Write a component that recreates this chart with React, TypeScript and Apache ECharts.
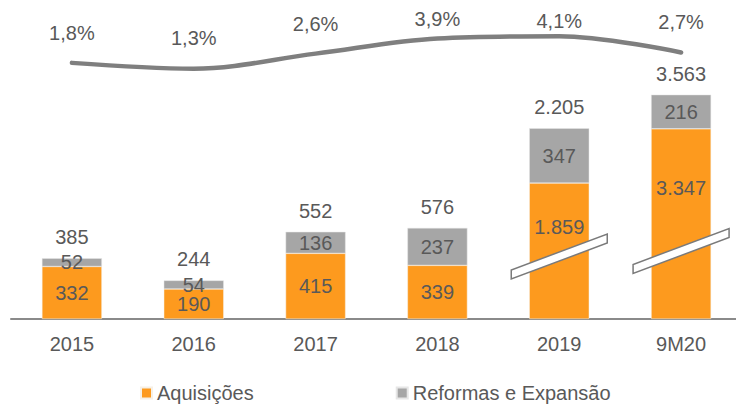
import React, { useEffect, useRef } from "react";
import * as echarts from "echarts";

const categories = ["2015", "2016", "2017", "2018", "2019", "9M20"];
const aquisicoes = [332, 190, 415, 339, 1859, 3347];
const reformas = [52, 54, 136, 237, 347, 216];
const totals = [385, 244, 552, 576, 2205, 3563];
const percentual = [1.8, 1.3, 2.6, 3.9, 4.1, 2.7];
// amount of the value axis hidden by the axis break on each bar
const breakRemoved = [0, 0, 0, 0, 1000, 2145];
// value (on the drawn scale) where the break mark sits
const breakAt = [null, null, null, null, 395, 430];

// label styling helpers (not data)
const pctLabelGap = [19, 20, 19, 9, 5, 20];
const orangeLabelShift = [0, 0, 0, 0, -24, -36];

const TXT = "#595959";
const FONT = "Liberation Sans, Arial, sans-serif";
const fmt = (v: number) =>
  v.toLocaleString("pt-BR", { maximumFractionDigits: 1 });

export default function App() {
  const ref = useRef<HTMLDivElement>(null);
  useEffect(() => {
    if (!ref.current) return;
    const chart = echarts.init(ref.current, null, { renderer: "svg" });
    const shown = aquisicoes.map((v, i) => v - breakRemoved[i]);
    chart.setOption({
      animation: false,
      textStyle: { fontFamily: FONT },
      grid: {
        left: 11,
        right: -6,
        top: 20,
        bottom: 85,
        containLabel: false,
        outerBoundsMode: "none",
      },
      legend: {
        data: ["Aquisições", "Reformas e Expansão"],
        left: 140,
        top: 383,
        padding: 0,
        itemWidth: 11,
        itemHeight: 11,
        itemGap: 142,
        icon: "rect",
        textStyle: { fontSize: 20, lineHeight: 20, color: TXT, fontFamily: FONT },
      },
      xAxis: {
        type: "category",
        data: categories,
        axisLine: { lineStyle: { color: "#8a8a8a", width: 2 } },
        axisTick: { show: false },
        axisLabel: {
          fontSize: 20,
          color: TXT,
          margin: 15,
          lineHeight: 20,
          fontFamily: FONT,
        },
      },
      yAxis: [
        { type: "value", min: 0, max: 1890, show: false, splitLine: { show: false } },
        { type: "value", min: -20.3, max: 5.5, show: false, splitLine: { show: false } },
      ],
      series: [
        {
          name: "Aquisições",
          type: "bar",
          stack: "t",
          barWidth: 60,
          itemStyle: { color: "#FD9A1E", borderColor: "#f6f0e6", borderWidth: 0.5 },
          data: shown.map((v, i) => ({
            value: v,
            label: { offset: [0, orangeLabelShift[i]] },
          })),
          label: {
            show: true,
            position: "inside",
            fontSize: 20,
            color: TXT,
            fontFamily: FONT,
            formatter: (p: any) => fmt(aquisicoes[p.dataIndex]),
          },
        },
        {
          name: "Reformas e Expansão",
          type: "bar",
          stack: "t",
          barWidth: 60,
          itemStyle: { color: "#A6A6A6", borderColor: "#e6e6e6", borderWidth: 0.5 },
          data: reformas,
          label: {
            show: true,
            position: "inside",
            fontSize: 20,
            color: TXT,
            fontFamily: FONT,
            formatter: (p: any) => fmt(reformas[p.dataIndex]),
          },
        },
        {
          name: "Total",
          type: "bar",
          stack: "t",
          barWidth: 60,
          itemStyle: { color: "transparent" },
          data: totals.map(() => 0),
          label: {
            show: true,
            position: "top",
            distance: 11,
            fontSize: 20,
            color: TXT,
            fontFamily: FONT,
            formatter: (p: any) => fmt(totals[p.dataIndex]),
          },
        },
        {
          name: "Quebra",
          type: "custom",
          z: 10,
          data: breakAt
            .map((v, i) => (v == null ? null : [i, v]))
            .filter((d) => d != null),
          renderItem: (params: any, api: any) => {
            const c = api.coord([api.value(0), api.value(1)]);
            const hw = 48;
            const dy = 18;
            const th = 4.5;
            return {
              type: "polygon",
              shape: {
                points: [
                  [c[0] - hw, c[1] + dy + th],
                  [c[0] - hw, c[1] + dy - th],
                  [c[0] + hw, c[1] - dy - th],
                  [c[0] + hw, c[1] - dy + th],
                ],
              },
              style: { fill: "#ffffff", stroke: "#7a7a7a", lineWidth: 1.5 },
            };
          },
        },
        {
          name: "Percentual",
          type: "line",
          yAxisIndex: 1,
          smooth: 0.35,
          symbol: "circle",
          symbolSize: 1,
          showSymbol: true,
          itemStyle: { color: "rgba(0,0,0,0)" },
          lineStyle: { color: "#7f7f7f", width: 4.5, cap: "round" },
          data: percentual.map((v, i) => ({
            value: v,
            label: { distance: pctLabelGap[i] },
          })),
          label: {
            show: true,
            position: "top",
            fontSize: 20,
            color: TXT,
            fontFamily: FONT,
            formatter: (p: any) => fmt(percentual[p.dataIndex]) + "%",
          },
        },
      ],
    });
    return () => chart.dispose();
  }, []);
  return (
    <div
      ref={ref}
      style={{ width: 736, height: 404, position: "absolute", left: 0, top: 0 }}
    />
  );
}
